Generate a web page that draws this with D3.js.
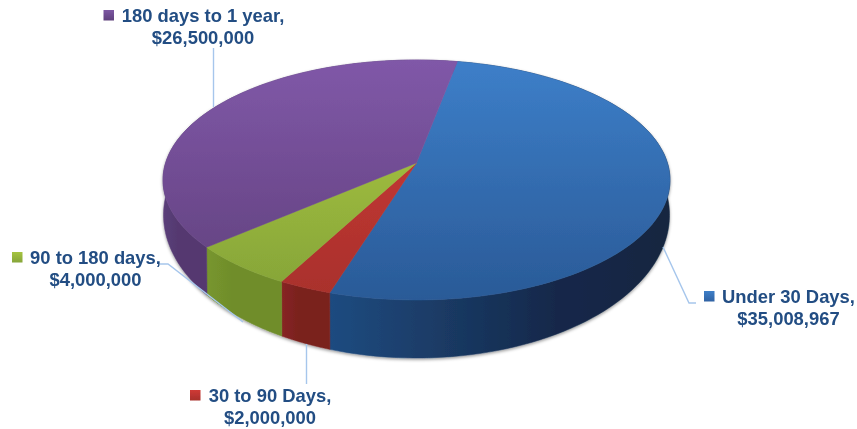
<!DOCTYPE html>
<html><head><meta charset="utf-8">
<script src="https://cdn.jsdelivr.net/npm/d3@7"></script>
<style>html,body{margin:0;padding:0;background:#fff}svg{display:block}</style>
</head><body><svg id="c" width="857" height="429"></svg>
<script>
const categories = ["Under 30 Days", "30 to 90 Days", "90 to 180 days", "180 days to 1 year"];
const values = [35008967, 2000000, 4000000, 26500000];
const valueLabels = ["$35,008,967", "$2,000,000", "$4,000,000", "$26,500,000"];
const keys = ["blue", "red", "green", "purple"];
const topStops = {blue:["#3d7fc9","#2a5a97"],red:["#d23c36","#a8302c"],green:["#b0cc42","#84a338"],purple:["#8058a8","#60407c"]};
const wallStops = {blue:["#1f4b80","#1a3a64","#13284a","#122640"],red:["#872524","#7a201e","#7a201e","#7a201e"],green:["#78962e","#6f8d2b","#6f8d2b","#6f8d2b"],purple:["#5b3f7a","#543970","#543970","#543970"]};
const legendStops = {blue:["#3f7fc8","#2f62a3"],red:["#cf3a35","#a82f2b"],green:["#a6c441","#86a539"],purple:["#7d57a3","#5f417d"]};

const svg = d3.select("#c");
const defs = svg.append("defs");
const topE = {cx:416.5, cy:180, rx:253.5, ry:120, k:-0.142};
const botE = {cx:416.5, cy:215, rx:253, ry:143, k:-0.142};
function project(e, a){
  const x = Math.sin(a), y = -Math.cos(a);
  const d = 1 + e.k*y, s = Math.sqrt(1-e.k*e.k);
  return [e.cx + e.rx*x*s/d, e.cy + e.ry*(y+e.k)/d];
}
const pie = d3.pie().sort(null).startAngle(10.7*Math.PI/180).endAngle((10.7+360)*Math.PI/180);
const arcs = pie(values);
const line = d3.line().curve(d3.curveLinear);
const samples = (a0,a1)=>d3.range(0,101).map(i=>a0+(a1-a0)*i/100);
const yScale = d3.scaleLinear().domain([0,1]).range([60,300]);

keys.forEach(k=>{
  const g = defs.append("linearGradient").attr("id","top-"+k).attr("gradientUnits","userSpaceOnUse")
    .attr("x1",0).attr("x2",0).attr("y1",yScale(0)).attr("y2",yScale(1));
  topStops[k].forEach((c,i)=>g.append("stop").attr("offset",i).attr("stop-color",c));
  const w = defs.append("linearGradient").attr("id","wall-"+k).attr("gradientUnits","userSpaceOnUse");
  const [x0,x1] = k==="blue"?[330,670]:k==="purple"?[163,207]:k==="green"?[207,283]:[282,331];
  w.attr("x1",x0).attr("x2",x1).attr("y1",0).attr("y2",0);
  wallStops[k].forEach((c,i)=>w.append("stop").attr("offset",i/3).attr("stop-color",c));
  const l = defs.append("linearGradient").attr("id","leg-"+k).attr("x1",0).attr("x2",0).attr("y1",0).attr("y2",1);
  legendStops[k].forEach((c,i)=>l.append("stop").attr("offset",i).attr("stop-color",c));
});
const f = defs.append("filter").attr("id","sh").attr("x","-10%").attr("y","-10%").attr("width","120%").attr("height","120%");
f.append("feDropShadow").attr("dx",0).attr("dy",1.5).attr("stdDeviation",1.6).attr("flood-color","#000").attr("flood-opacity",0.4);
const b = defs.append("filter").attr("id","soft").attr("x","-5%").attr("y","-5%").attr("width","110%").attr("height","110%");
b.append("feGaussianBlur").attr("stdDeviation",0.5);
const tb = defs.append("filter").attr("id","softText").attr("x","-5%").attr("y","-5%").attr("width","110%").attr("height","110%");
tb.append("feGaussianBlur").attr("stdDeviation",0.3);

const pie3d = svg.append("g").attr("filter","url(#sh)");
const inner = pie3d.append("g").attr("filter","url(#soft)");
inner.selectAll("path.wall").data(arcs).join("path").attr("class","wall")
  .attr("d",d=>{
    const s = samples(d.startAngle,d.endAngle);
    return line(s.map(a=>project(topE,a)).concat(s.slice().reverse().map(a=>project(botE,a))))+"Z";
  })
  .attr("fill",(d,i)=>`url(#wall-${keys[i]})`)
  .attr("stroke",(d,i)=>`url(#wall-${keys[i]})`).attr("stroke-width",0.5);
inner.selectAll("path.top").data(arcs).join("path").attr("class","top")
  .attr("d",d=>{
    const s = samples(d.startAngle,d.endAngle);
    return line([[topE.cx, topE.cy+topE.ry*topE.k]].concat(s.map(a=>project(topE,a))))+"Z";
  })
  .attr("fill",(d,i)=>`url(#top-${keys[i]})`)
  .attr("stroke",(d,i)=>`url(#top-${keys[i]})`).attr("stroke-width",0.5);

const leaders = [
  [[663,247],[689,303],[696,303]],
  [[306.5,344],[306.5,384]],
  [[160,264],[168,264],[243,322]],
  [[213.5,48],[213.5,107]]
];
svg.append("g").selectAll("path").data(leaders).join("path")
  .attr("d",d=>line(d)).attr("fill","none").attr("stroke","#a6c6ec").attr("stroke-width",1.4);

const labelPos = [
  {x:788.5,y:302.5,sx:704,sy:291},
  {x:270,y:401.5,sx:190,sy:390},
  {x:95.5,y:263.5,sx:12,sy:252},
  {x:203,y:22,sx:103.5,sy:10}
];
const lab = svg.append("g").attr("font-family","'Liberation Sans',Arial,sans-serif").attr("font-weight","bold")
  .attr("font-size",18.4).attr("fill","#224d83").attr("text-anchor","middle").attr("filter","url(#softText)");
categories.forEach((c,i)=>{
  const p = labelPos[i];
  lab.append("rect").attr("x",p.sx).attr("y",p.sy).attr("width",10.5).attr("height",10.5).attr("fill",`url(#leg-${keys[i]})`);
  lab.append("text").attr("x",p.x).attr("y",p.y).text(c+",");
  lab.append("text").attr("x",p.x).attr("y",p.y+22).text(valueLabels[i]);
});
</script></body></html>
